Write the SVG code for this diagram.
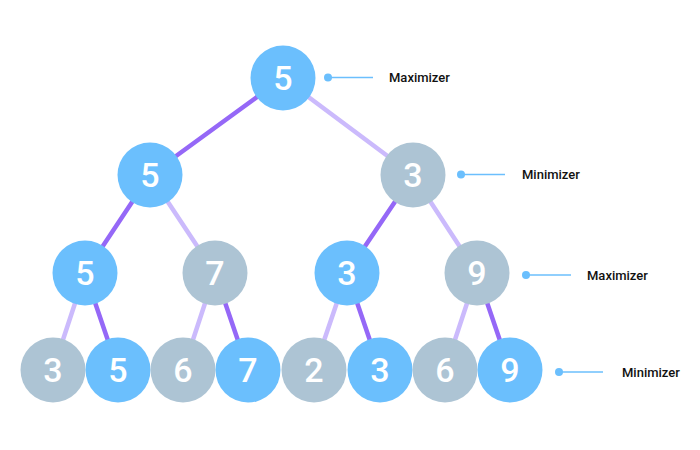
<svg xmlns="http://www.w3.org/2000/svg" width="700" height="450" viewBox="0 0 700 450">
<style>
.e{stroke-width:4.5;stroke-linecap:round;fill:none}
.d{stroke:#9568f7}
.l{stroke:#cbbafc}
.b{fill:#6bbffd}
.g{fill:#adc4d4}
.n{font-family:Roboto,"Liberation Sans",sans-serif;font-size:34px;font-weight:500;fill:#fff;text-anchor:middle}
.a{font-family:Roboto,"Liberation Sans",sans-serif;font-size:13px;font-weight:500;fill:#111}
.al{stroke:#6bbffd;stroke-width:1.6}
.ad{fill:#6bbffd}
</style>
<rect width="700" height="450" fill="#fff"/>
<g id="connectors">
<line class="e d" x1="283" y1="78" x2="150" y2="175"/>
<line class="e l" x1="283" y1="78" x2="413" y2="175"/>
<line class="e d" x1="150" y1="175" x2="85" y2="273"/>
<line class="e l" x1="150" y1="175" x2="215" y2="273"/>
<line class="e d" x1="413" y1="175" x2="347" y2="273"/>
<line class="e l" x1="413" y1="175" x2="477" y2="273"/>
<line class="e l" x1="85" y1="273" x2="53" y2="370"/>
<line class="e d" x1="85" y1="273" x2="118" y2="370"/>
<line class="e l" x1="215" y1="273" x2="183" y2="370"/>
<line class="e d" x1="215" y1="273" x2="248" y2="370"/>
<line class="e l" x1="347" y1="273" x2="314" y2="370"/>
<line class="e d" x1="347" y1="273" x2="380" y2="370"/>
<line class="e l" x1="477" y1="273" x2="445" y2="370"/>
<line class="e d" x1="477" y1="273" x2="510" y2="370"/>
</g>
<g id="n0"><circle class="b" cx="283" cy="78" r="32.5"/><text class="n" x="283" y="90">5</text></g>
<g id="n1"><circle class="b" cx="150" cy="175" r="32.5"/><text class="n" x="150" y="187">5</text></g>
<g id="n2"><circle class="g" cx="413" cy="175" r="32.5"/><text class="n" x="413" y="187">3</text></g>
<g id="n3"><circle class="b" cx="85" cy="273" r="32.5"/><text class="n" x="85" y="285">5</text></g>
<g id="n4"><circle class="g" cx="215" cy="273" r="32.5"/><text class="n" x="215" y="285">7</text></g>
<g id="n5"><circle class="b" cx="347" cy="273" r="32.5"/><text class="n" x="347" y="285">3</text></g>
<g id="n6"><circle class="g" cx="477" cy="273" r="32.5"/><text class="n" x="477" y="285">9</text></g>
<g id="n7"><circle class="g" cx="53" cy="370" r="32.5"/><text class="n" x="53" y="382">3</text></g>
<g id="n8"><circle class="b" cx="118" cy="370" r="32.5"/><text class="n" x="118" y="382">5</text></g>
<g id="n9"><circle class="g" cx="183" cy="370" r="32.5"/><text class="n" x="183" y="382">6</text></g>
<g id="n10"><circle class="b" cx="248" cy="370" r="32.5"/><text class="n" x="248" y="382">7</text></g>
<g id="n11"><circle class="g" cx="314" cy="370" r="32.5"/><text class="n" x="314" y="382">2</text></g>
<g id="n12"><circle class="b" cx="380" cy="370" r="32.5"/><text class="n" x="380" y="382">3</text></g>
<g id="n13"><circle class="g" cx="445" cy="370" r="32.5"/><text class="n" x="445" y="382">6</text></g>
<g id="n14"><circle class="b" cx="510" cy="370" r="32.5"/><text class="n" x="510" y="382">9</text></g>
<g id="label0"><circle class="ad" cx="328" cy="77.5" r="4"/><line class="al" x1="328" y1="77.5" x2="373" y2="77.5"/><text class="a" x="389" y="82">Maximizer</text></g>
<g id="label1"><circle class="ad" cx="461" cy="174.5" r="4"/><line class="al" x1="461" y1="174.5" x2="505" y2="174.5"/><text class="a" x="522" y="179">Minimizer</text></g>
<g id="label2"><circle class="ad" cx="526" cy="275" r="4"/><line class="al" x1="526" y1="275" x2="571" y2="275"/><text class="a" x="587" y="279.5">Maximizer</text></g>
<g id="label3"><circle class="ad" cx="559" cy="372" r="4"/><line class="al" x1="559" y1="372" x2="603" y2="372"/><text class="a" x="622" y="376.5">Minimizer</text></g>
</svg>
